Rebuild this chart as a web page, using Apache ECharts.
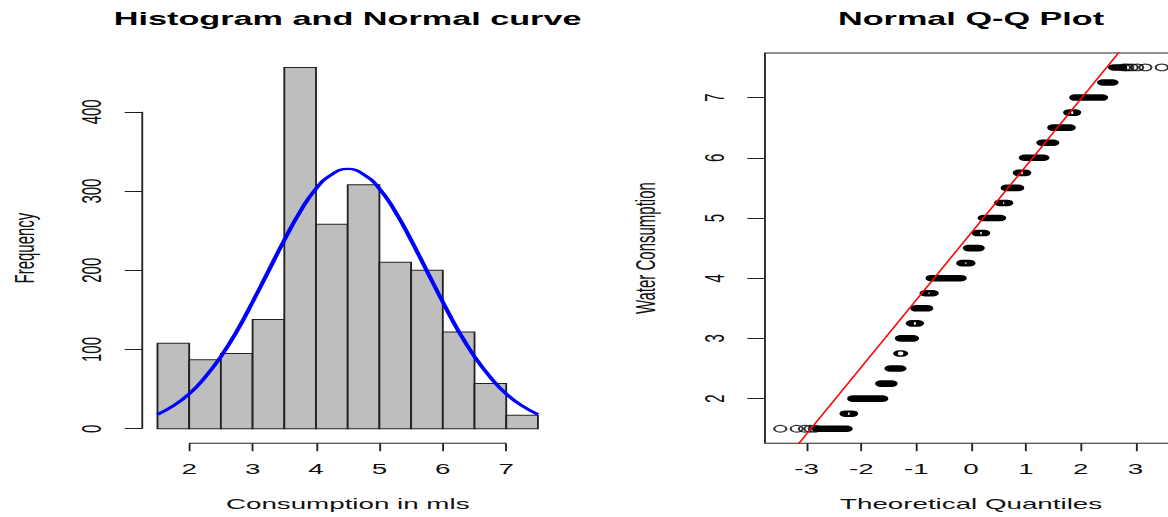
<!DOCTYPE html>
<html><head><meta charset="utf-8">
<script src="https://cdn.jsdelivr.net/npm/echarts@6/dist/echarts.min.js"></script>
<style>
html,body{margin:0;padding:0;overflow:hidden;background:#fff;width:1168px;height:517px}
#wrap{width:1168px;height:517px;overflow:hidden;position:relative;background:#fff}
#c{width:640px;height:517px;transform:scaleX(1.85);transform-origin:0 0;position:absolute;left:0;top:0}
</style></head><body><div id="wrap"><div id="c"></div></div>
<script>
// ---------------- data ----------------
const histBreaks = [1.5, 2, 2.5, 3, 3.5, 4, 4.5, 5, 5.5, 6, 6.5, 7, 7.5];
const histCounts = [108, 87, 95, 138, 456, 258, 308, 210, 200, 122, 57, 17];
const curveX = [1.5, 1.75, 2, 2.25, 2.5, 2.75, 3, 3.25, 3.5, 3.75, 4, 4.25, 4.5, 4.75, 5, 5.25, 5.5, 5.75, 6, 6.25, 6.5, 6.75, 7, 7.25, 7.5];
const curveY = [18, 29, 44, 65, 91, 123, 160, 199, 238, 274, 303, 321, 328, 321, 303, 274, 238, 199, 160, 123, 91, 65, 44, 29, 18];
const histXTicks = [2, 3, 4, 5, 6, 7];
const histYTicks = [0, 100, 200, 300, 400];

const qqLevels = [1.5, 1.75, 2, 2.25, 2.5, 2.75, 3, 3.25, 3.5, 3.75, 4, 4.25, 4.5, 4.75, 5, 5.25, 5.5, 5.75, 6, 6.25, 6.5, 6.75, 7, 7.25, 7.5];
const qqFrom = [-2.80, -2.29, -2.15, -1.64, -1.47, -1.31, -1.28, -1.08, -1.00, -0.83, -0.72, -0.16, -0.04, 0.12, 0.23, 0.53, 0.65, 0.87, 0.98, 1.30, 1.50, 1.79, 1.90, 2.41, 2.61];
const qqTo   = [-2.27, -2.17, -1.62, -1.45, -1.29, -1.26, -1.06, -0.97, -0.80, -0.70, -0.19, -0.03, 0.14, 0.24, 0.53, 0.66, 0.86, 0.99, 1.32, 1.50, 1.80, 1.90, 2.39, 2.58, 2.74];
const qqTailX = [-3.48, -3.18, -3.03, -2.93, -2.85, 2.79, 2.85, 2.93, 3.03, 3.18, 3.48];
const qqTailY = [1.5, 1.5, 1.5, 1.5, 1.5, 7.5, 7.5, 7.5, 7.5, 7.5, 7.5];
const qqLineIntercept = 4.75;
const qqLineSlope = 1.112;
const qqXTicks = [-3, -2, -1, 0, 1, 2, 3];
const qqYTicks = [2, 3, 4, 5, 6, 7];

// ---------------- chart ----------------
const FONT = "'Liberation Sans', Arial, sans-serif";
const histXMin = 1.26, histXMax = 7.74, histYMin = -18.24, histYMax = 474.24;
const qqXMin = -3.76, qqXMax = 3.76, qqYMin = 1.26, qqYMax = 7.74;
const LINE = '#222';
const txt = {fontSize: 15, fontFamily: FONT, color: '#111'};

function xAxis(gi, min, max, ticks, name, gap) {
  return {
    type: 'value', gridIndex: gi, min: min, max: max, position: 'bottom',
    axisLine: {show: false, onZero: false}, splitLine: {show: false},
    axisTick: {show: true, inside: false, customValues: ticks, length: 8, lineStyle: {color: LINE, width: 1}},
    axisLabel: Object.assign({customValues: ticks, margin: 18.5, formatter: v => String(v)}, txt),
    name: name, nameLocation: 'middle', nameGap: gap, nameTextStyle: txt
  };
}
function yAxis(gi, min, max, ticks, name, margin, gap) {
  return {
    type: 'value', gridIndex: gi, min: min, max: max, position: 'left',
    axisLine: {show: false, onZero: false}, splitLine: {show: false},
    axisTick: {show: true, inside: false, customValues: ticks, length: 9.5, lineStyle: {color: LINE, width: 1}},
    axisLabel: Object.assign({customValues: ticks, rotate: 90, margin: margin, formatter: v => String(v)}, txt),
    name: name, nameLocation: 'middle', nameGap: gap, nameRotate: 90, nameTextStyle: txt
  };
}

const barData = histCounts.map((c, i) => [histBreaks[i], histBreaks[i + 1], c]);
const curveData = curveX.map((x, i) => [x, curveY[i]]);
const qqData = qqLevels.map((lv, i) => [qqFrom[i], qqTo[i], lv]);
const tailData = qqTailX.map((x, i) => [x, qqTailY[i]]);
const qqLineData = [qqXMin, qqXMax].map(x => [x, qqLineIntercept + qqLineSlope * x]);

const titleStyle = {fontSize: 18.5, fontWeight: 'bold', fontFamily: FONT, color: '#000'};
const chart = echarts.init(document.getElementById('c'), null, {renderer: 'svg', width: 640, height: 517});
chart.setOption({
  animation: false,
  backgroundColor: '#fff',
  title: [
    {text: 'Histogram and Normal curve', left: 187.9, top: 9, padding: 0, textAlign: 'center', textStyle: titleStyle},
    {text: 'Normal Q-Q Plot', left: 524.9, top: 9, padding: 0, textAlign: 'center', textStyle: titleStyle}
  ],
  grid: [
    {left: 76.9, top: 53, width: 222.1, height: 390.2},
    {left: 413.5, top: 53, width: 222.8, height: 390.2, show: true, borderColor: LINE, borderWidth: 1, backgroundColor: 'transparent'}
  ],
  xAxis: [
    xAxis(0, histXMin, histXMax, histXTicks, 'Consumption in mls', 53),
    xAxis(1, qqXMin, qqXMax, qqXTicks, 'Theoretical Quantiles', 53)
  ],
  yAxis: [
    yAxis(0, histYMin, histYMax, histYTicks, 'Frequency', 20, 56),
    yAxis(1, qqYMin, qqYMax, qqYTicks, 'Water Consumption', 19.5, 57)
  ],
  series: [
    {
      type: 'custom', xAxisIndex: 0, yAxisIndex: 0, data: barData, encode: {x: [0, 1], y: 2},
      renderItem: function (params, api) {
        const p0 = api.coord([api.value(0), api.value(2)]);
        const p1 = api.coord([api.value(1), 0]);
        return {type: 'rect', shape: {x: p0[0], y: p0[1], width: p1[0] - p0[0], height: p1[1] - p0[1]},
                style: {fill: '#BEBEBE', stroke: LINE, lineWidth: 1}};
      }
    },
    {
      type: 'line', xAxisIndex: 0, yAxisIndex: 0, data: curveData, smooth: true, symbol: 'none',
      lineStyle: {color: '#0000FF', width: 2.4}, z: 5
    },
    {
      type: 'line', xAxisIndex: 0, yAxisIndex: 0, symbol: 'none', clip: false, silent: true,
      data: [[histXTicks[0], histYMin], [histXTicks[histXTicks.length - 1], histYMin]],
      lineStyle: {color: LINE, width: 1}
    },
    {
      type: 'line', xAxisIndex: 0, yAxisIndex: 0, symbol: 'none', clip: false, silent: true,
      data: [[histXMin, histYTicks[0]], [histXMin, histYTicks[histYTicks.length - 1]]],
      lineStyle: {color: LINE, width: 1}
    },
    {
      type: 'custom', xAxisIndex: 1, yAxisIndex: 1, data: qqData, encode: {x: [0, 1], y: 2}, clip: true,
      renderItem: function (params, api) {
        const lv = api.value(2);
        const a = api.coord([api.value(0), lv]);
        const b = api.coord([api.value(1), lv]);
        const R = 3.3, ri = 2.2;
        const L = b[0] - a[0];
        const kids = [{type: 'rect', shape: {x: a[0] - R, y: a[1] - R, width: L + 2 * R, height: 2 * R, r: R}, style: {fill: '#000'}}];
        if (L < 2 * ri) {
          const w = 2 * ri - L, h = 2 * Math.sqrt(ri * ri - L * L / 4);
          kids.push({type: 'rect', shape: {x: (a[0] + b[0]) / 2 - w / 2, y: a[1] - h / 2, width: w, height: h, r: Math.min(w, h) / 2}, style: {fill: '#fff'}});
        }
        return {type: 'group', children: kids};
      }
    },
    {
      type: 'scatter', xAxisIndex: 1, yAxisIndex: 1, data: tailData, symbol: 'circle', symbolSize: 6.6,
      itemStyle: {color: 'rgba(0,0,0,0)', borderColor: '#000', borderWidth: 1.1}
    },
    {
      type: 'line', xAxisIndex: 1, yAxisIndex: 1, data: qqLineData, symbol: 'none', clip: true,
      lineStyle: {color: '#FF0000', width: 1}, z: 6
    }
  ]
});
</script></body></html>
